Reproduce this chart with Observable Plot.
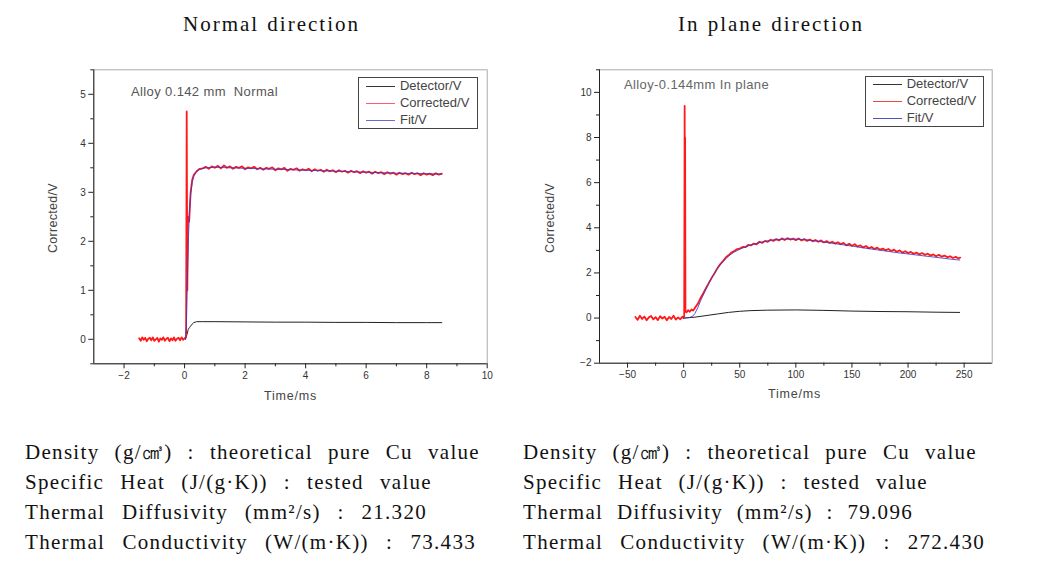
<!DOCTYPE html>
<html><head><meta charset="utf-8">
<script src="https://cdn.jsdelivr.net/npm/d3@7"></script>
<script src="https://cdn.jsdelivr.net/npm/@observablehq/plot@0.6"></script>
<style>
body{margin:0;background:#fff;}
#wrap{position:relative;width:1038px;height:578px;overflow:hidden;background:#fff;}
.abs{position:absolute;white-space:pre;display:inline-block;}
.serif{font-family:"Liberation Serif","DejaVu Serif",serif;font-size:21px;line-height:24px;color:#111;}
.sans{font-family:"Liberation Sans",Arial,sans-serif;}
.leg{position:absolute;border:1px solid #444;background:#fff;}
.row{position:absolute;left:0;height:14px;}
.sw{position:absolute;height:0;width:29px;top:7px;}
.lt{position:absolute;font-family:"Liberation Sans",Arial,sans-serif;font-size:13px;line-height:14px;color:#444;}
</style></head>
<body><div id="wrap"></div>
<script>
// ---------- data: Normal direction ----------
const nCorrT = [-1.5,-1.45,-1.4,-1.35,-1.3,-1.25,-1.2,-1.15,-1.1,-1.05,-1.0,-0.95,-0.9,-0.85,-0.8,-0.75,-0.7,-0.65,-0.6,-0.55,-0.5,-0.45,-0.4,-0.35,-0.3,-0.25,-0.2,-0.15,-0.1,-0.05,0.0,
  0.05,0.07,0.09,0.11,0.15,0.2,0.25,0.3,0.4,0.5,
  0.6,0.7,0.8,0.9,1.0,1.1,1.2,1.3,1.4,1.5,1.6,1.7,1.8,1.9,2.0,2.1,2.2,2.3,2.4,2.5,2.6,2.7,2.8,2.9,3.0,3.1,3.2,3.3,3.4,3.5,3.6,3.7,3.8,3.9,4.0,4.1,4.2,4.3,4.4,4.5,4.6,4.7,4.8,4.9,5.0,5.1,5.2,5.3,5.4,5.5,5.6,5.7,5.8,5.9,6.0,6.1,6.2,6.3,6.4,6.5,6.6,6.7,6.8,6.9,7.0,7.1,7.2,7.3,7.4,7.5,7.6,7.7,7.8,7.9,8.0,8.1,8.2,8.3,8.4,8.5];
const nCorrV = [0.02,-0.03,0.04,-0.01,0.03,-0.04,0.01,0.03,-0.02,0.04,-0.03,0.00,0.03,-0.05,0.02,-0.01,0.04,-0.03,0.01,0.03,-0.04,0.02,-0.02,0.04,-0.03,0.01,0.03,-0.02,0.04,-0.01,0.02,
  0.05,4.65,1.0,2.5,2.4,3.0,3.25,3.35,3.43,3.48,
  3.49,3.52,3.48,3.53,3.50,3.54,3.49,3.55,3.50,3.53,3.48,3.52,3.50,3.53,3.47,3.51,3.49,3.52,3.47,3.50,3.46,3.50,3.48,3.51,3.45,3.49,3.47,3.50,3.44,3.48,3.46,3.49,3.44,3.47,3.45,3.48,3.43,3.47,3.44,3.46,3.42,3.46,3.43,3.45,3.41,3.45,3.42,3.44,3.40,3.44,3.41,3.43,3.39,3.43,3.40,3.42,3.38,3.42,3.39,3.41,3.37,3.41,3.38,3.40,3.36,3.40,3.37,3.39,3.36,3.40,3.37,3.39,3.35,3.39,3.36,3.38,3.35,3.39,3.36,3.38];
const nFitT = [0.03,0.06,0.1,0.13,0.16,0.2,0.25,0.3,0.35,0.4,0.5,0.7,1.0,1.5,2,3,4,5,6,7,8,8.5];
const nFitV = [0,0.3,1.4,2.1,2.6,2.96,3.2,3.32,3.39,3.43,3.47,3.50,3.51,3.50,3.49,3.47,3.45,3.43,3.41,3.39,3.38,3.37];
const nDetT = [0.03,0.08,0.12,0.16,0.2,0.25,0.3,0.4,0.6,1,2,3,4,5,6,7,8,8.5];
const nDetV = [0.0,0.1,0.2,0.24,0.27,0.31,0.34,0.36,0.36,0.36,0.355,0.35,0.35,0.345,0.345,0.34,0.34,0.34];
const nXMajor = [-2,0,2,4,6,8,10];
const nXMinor = [-1,1,3,5,7,9];
const nYMajor = [0,1,2,3,4,5];
const nYMinor = [-0.5,0.5,1.5,2.5,3.5,4.5,5.5];

// ---------- data: In plane direction ----------
const pCorrT = [-43,-41,-39,-37,-35,-33,-31,-29,-27,-25,-23,-21,-19,-17,-15,-13,-11,-9,-7,-5,-3,-1,0,
  0.5,0.9,1.1,1.3,1.6,
  2.5,4,5.5,7,8.5,10,12.5,15,17.5,20,22.5,25,27.5,30,32.5,35,37.5,40,42.5,45,47.5,50,52.5,55,57.5,60,62.5,65,67.5,70,72.5,75,77.5,80,82.5,85,87.5,90,92.5,95,97.5,100,102.5,105,107.5,110,112.5,115,117.5,120,122.5,125,127.5,130,132.5,135,137.5,140,142.5,145,147.5,150,152.5,155,157.5,160,162.5,165,167.5,170,172.5,175,177.5,180,182.5,185,187.5,190,192.5,195,197.5,200,202.5,205,207.5,210,212.5,215,217.5,220,222.5,225,227.5,230,232.5,235,237.5,240,242.5,245,246.5];
const pCorrV = [0.05,-0.08,0.1,-0.04,0.07,-0.1,0.03,0.09,-0.06,0.04,-0.09,0.08,-0.02,0.06,-0.1,0.05,-0.04,0.1,-0.07,0.03,-0.05,0.06,0.0,
  0.1,9.4,0.4,8.0,0.3,
  0.25,0.35,0.28,0.38,0.33,0.45,0.62,0.88,1.1,1.33,1.56,1.78,1.98,2.2,2.38,2.52,2.68,2.78,2.9,2.97,3.05,3.08,3.15,3.14,3.24,3.22,3.3,3.27,3.38,3.33,3.42,3.38,3.47,3.42,3.5,3.44,3.53,3.46,3.54,3.48,3.52,3.45,3.53,3.44,3.5,3.42,3.48,3.4,3.46,3.38,3.44,3.35,3.41,3.33,3.38,3.3,3.36,3.27,3.33,3.22,3.29,3.2,3.27,3.17,3.22,3.13,3.19,3.09,3.15,3.06,3.12,3.03,3.08,3.0,3.06,2.97,3.03,2.94,3.0,2.9,2.96,2.88,2.93,2.85,2.9,2.82,2.88,2.8,2.85,2.77,2.82,2.74,2.8,2.72,2.77,2.69,2.74,2.66,2.71,2.64,2.68];
const pFitT = [0,5,8,10,12.5,15,20,25,30,35,40,45,50,55,60,70,80,90,100,110,120,130,140,150,160,170,180,190,200,210,220,230,240,246];
const pFitV = [0,0.02,0.08,0.2,0.45,0.75,1.3,1.8,2.2,2.5,2.75,2.92,3.05,3.15,3.24,3.37,3.46,3.5,3.5,3.46,3.4,3.33,3.26,3.19,3.11,3.04,2.97,2.9,2.84,2.78,2.72,2.66,2.6,2.57];
const pDetT = [0,10,20,30,40,50,60,75,100,125,150,175,200,225,246];
const pDetV = [0,0.04,0.11,0.18,0.25,0.3,0.33,0.35,0.36,0.34,0.31,0.29,0.28,0.26,0.25];
const pXMajor = [-50,0,50,100,150,200,250];
const pXMinor = [-25,25,75,125,175,225];
const pYMajor = [-2,0,2,4,6,8,10];
const pYMinor = [-1,1,3,5,7,9,11];

// ---------- text ----------
const titles = ["Normal direction", "In plane direction"];
const seriesNames = ["Detector/V", "Corrected/V", "Fit/V"];
const notes = ["Alloy 0.142 mm  Normal", "Alloy-0.144mm In plane"];
const infoLeft = ["Density (g/㎤) : theoretical pure Cu value", "Specific Heat (J/(g·K)) : tested value", "Thermal Diffusivity (mm²/s) : 21.320", "Thermal Conductivity (W/(m·K)) : 73.433"];
const infoRight = ["Density (g/㎤) : theoretical pure Cu value", "Specific Heat (J/(g·K)) : tested value", "Thermal Diffusivity (mm²/s) : 79.096", "Thermal Conductivity (W/(m·K)) : 272.430"];

const zip = (ts, vs) => ts.map((t, i) => ({t, v: vs[i]}));
const wrap = document.getElementById("wrap");

function chart(o) {
  const p = Plot.plot({
    width: o.w, height: o.h,
    marginLeft: o.ml, marginRight: o.mr, marginTop: o.mt, marginBottom: o.mb,
    style: {fontFamily: "'Liberation Sans', Arial, sans-serif", fontSize: "10px", color: "#333", background: "transparent"},
    x: {domain: o.xd}, y: {domain: o.yd},
    marks: [
      Plot.frame({stroke: "#aaa"}),
      Plot.line(zip(o.det[0], o.det[1]), {x: "t", y: "v", stroke: "#222", strokeWidth: 1}),
      Plot.line(zip(o.corr[0], o.corr[1]), {x: "t", y: "v", stroke: "#ff1a1a", strokeWidth: 1.8}),
      Plot.line(zip(o.fit[0], o.fit[1]), {x: "t", y: "v", stroke: "#3a3acc", strokeWidth: 1, strokeOpacity: 0.85}),
      Plot.ruleX([o.xd[0]], {stroke: "#222"}),
      Plot.ruleY([o.yd[0]], {stroke: "#222"}),
      Plot.axisX(o.xMinor, {tickSize: 3, tickFormat: () => "", label: null, stroke: "#222"}),
      Plot.axisX(o.xMajor, {tickSize: 5, tickPadding: 3, label: null, stroke: "#222", fill: "#333"}),
      Plot.axisY(o.yMinor, {tickSize: 3, tickFormat: () => "", label: null, stroke: "#222"}),
      Plot.axisY(o.yMajor, {tickSize: 5, tickPadding: 3, label: null, stroke: "#222", fill: "#333"})
    ]
  });
  p.style.position = "absolute";
  p.style.left = o.left + "px";
  p.style.top = o.top + "px";
  wrap.appendChild(p);
}

chart({left: 40, top: 60, w: 460, h: 350, ml: 53.3, mr: 13.3, mt: 9.3, mb: 46.7,
  xd: [-3, 10], yd: [-0.5, 5.5], xMajor: nXMajor, xMinor: nXMinor, yMajor: nYMajor, yMinor: nYMinor,
  det: [nDetT, nDetV], corr: [nCorrT, nCorrV], fit: [nFitT, nFitV]});
chart({left: 530, top: 60, w: 470, h: 350, ml: 69, mr: 8.3, mt: 9.3, mb: 47.3,
  xd: [-75, 275], yd: [-2, 11], xMajor: pXMajor, xMinor: pXMinor, yMajor: pYMajor, yMinor: pYMinor,
  det: [pDetT, pDetV], corr: [pCorrT, pCorrV], fit: [pFitT, pFitV]});

// fit a text to a target width: by letter spacing (sans) or fixed letter + word spacing (serif)
function addText(txt, cls, x, y, w, css, ls) {
  const d = document.createElement("div");
  d.className = "abs " + cls;
  d.textContent = txt;
  d.style.left = x + "px"; d.style.top = y + "px";
  if (css) Object.assign(d.style, css);
  wrap.appendChild(d);
  if (w) {
    if (ls != null) {
      d.style.letterSpacing = ls + "px";
      const cur = d.getBoundingClientRect().width;
      const n = (txt.match(/ /g) || []).length || 1;
      d.style.wordSpacing = ((w - cur) / n) + "px";
    } else {
      const cur = d.getBoundingClientRect().width;
      d.style.letterSpacing = ((w - cur) / txt.length) + "px";
    }
  }
  return d;
}

// titles
addText(titles[0], "serif", 183, 12, 177, null, 2.0);
addText(titles[1], "serif", 678, 12, 186, null, 2.0);

// info text
infoLeft.forEach((t, i) => addText(t, "serif", 25, 440 + i * 30, [455, 407, 402, 451][i], null, 1.3));
infoRight.forEach((t, i) => addText(t, "serif", 523, 440 + i * 30, [454, 405, 390, 462][i], null, 1.3));

// axis labels
const axCss = {fontSize: "12.5px", lineHeight: "14px", color: "#444"};
addText("Time/ms", "sans", 264, 389, 53, axCss);
addText("Time/ms", "sans", 768, 387, 53, axCss);
const yl1 = addText("Corrected/V", "sans", 53, 218, 70, Object.assign({}, axCss));
yl1.style.transformOrigin = "0 0"; yl1.style.transform = "translate(-7px, 35px) rotate(-90deg)";
const yl2 = addText("Corrected/V", "sans", 550, 218, 70, Object.assign({}, axCss));
yl2.style.transformOrigin = "0 0"; yl2.style.transform = "translate(-7px, 35px) rotate(-90deg)";

// annotations
addText(notes[0], "sans", 131, 84, 147, {fontSize: "13px", lineHeight: "15px", color: "#555"});
addText(notes[1], "sans", 624, 77, 145, {fontSize: "13px", lineHeight: "15px", color: "#666"});

// legends
function legend(x, y, w, h, lx, tx, rows, colors) {
  const b = document.createElement("div");
  b.className = "leg";
  Object.assign(b.style, {left: x + "px", top: y + "px", width: w + "px", height: h + "px"});
  wrap.appendChild(b);
  seriesNames.forEach((n, i) => {
    const r = document.createElement("div");
    r.className = "row";
    r.style.top = (rows[i] - y - 8) + "px";
    r.style.width = w + "px";
    const s = document.createElement("div");
    s.className = "sw";
    s.style.left = (lx - x) + "px";
    s.style.borderTop = "1.5px solid " + colors[i];
    const t = document.createElement("div");
    t.className = "lt";
    t.style.left = (tx - x) + "px";
    t.textContent = n;
    r.appendChild(s); r.appendChild(t);
    b.appendChild(r);
  });
}
legend(357.7, 77.3, 118, 50, 365, 399, [86, 102.7, 120], ["#333", "#ff5a70", "#6b6bd6"]);
legend(865, 75.7, 117, 49, 871.7, 905.7, [84, 101, 117.7], ["#333", "#e84a4a", "#5050c0"]);
</script>
</body></html>
